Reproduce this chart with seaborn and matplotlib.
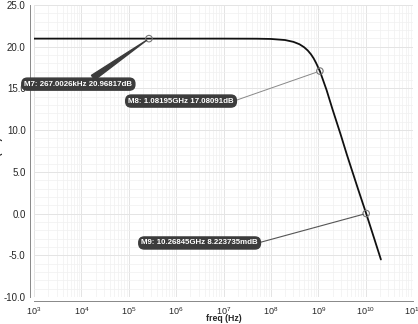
import numpy as np
import pandas as pd
import matplotlib
matplotlib.use("Agg")
import matplotlib.pyplot as plt
import seaborn as sns
from matplotlib.ticker import LogLocator, MultipleLocator, FormatStrFormatter, NullFormatter

# curve
freq = [1e3, 1e4, 1e5, 1e6, 1e7, 5e7, 1e8, 2e8, 3e8, 4e8, 5e8, 6e8, 7e8, 8e8, 9e8,
        1.08195e9, 1.5e9, 2e9, 3e9, 4e9, 5e9, 7e9, 1.026845e10, 1.5e10, 2.1e10]
gain_db = [20.97, 20.97, 20.97, 20.97, 20.97, 20.96, 20.93, 20.80, 20.58, 20.30, 19.95,
           19.55, 19.10, 18.60, 18.05, 17.08, 14.8, 12.5, 9.4, 7.1, 5.4, 2.85, 0.008, -2.9, -5.5]

# markers
marker_names = ["M7", "M8", "M9"]
marker_freq = [267.0026e3, 1.08195e9, 10.26845e9]
marker_db = [20.96817, 17.08091, 0.008223735]
marker_labels = ["M7: 267.0026kHz 20.96817dB",
                 "M8: 1.08195GHz 17.08091dB",
                 "M9: 10.26845GHz 8.223735mdB"]

df = pd.DataFrame({"freq": freq, "gain": gain_db})
mk = pd.DataFrame({"freq": marker_freq, "gain": marker_db, "label": marker_labels})

sns.set_style("white")
plt.rcParams['font.family'] = ['Liberation Sans', 'DejaVu Sans']

fig = plt.figure(figsize=(4.18, 3.24), dpi=100)
ax = fig.add_axes([34 / 418, 27 / 324, 379 / 418, 292 / 324])

sns.lineplot(data=df, x="freq", y="gain", ax=ax, color="#111111", lw=1.3, zorder=3)
sns.scatterplot(data=mk, x="freq", y="gain", ax=ax, s=22, facecolor="none",
                edgecolor="#777777", linewidth=0.8, zorder=4)

ax.set_xscale("log")
ax.set_xlim(1e3, 1e11)
ax.set_ylim(-10, 25)

ax.xaxis.set_major_locator(LogLocator(base=10, numticks=20))
ax.xaxis.set_minor_locator(LogLocator(base=10, subs=np.arange(2, 10), numticks=20))
ax.xaxis.set_minor_formatter(NullFormatter())
ax.yaxis.set_major_locator(MultipleLocator(5))
ax.yaxis.set_minor_locator(MultipleLocator(1))
ax.yaxis.set_major_formatter(FormatStrFormatter("%.1f"))

ax.grid(True, which="major", color="#e4e4e4", lw=0.7)
ax.grid(True, which="minor", color="#f0f0f0", lw=0.5)

ax.tick_params(axis="both", which="major", direction="in", length=3, width=0.6,
               color="#888888")
ax.tick_params(axis="y", which="major", pad=3, labelsize=7)
ax.tick_params(axis="x", which="major", pad=3, labelsize=6.5)
ax.tick_params(axis="both", which="minor", direction="in", length=2, width=0.5,
               color="#888888")
for lab in ax.get_yticklabels():
    lab.set_fontweight("bold")

sns.despine(ax=ax, offset=3)
for s in ["left", "bottom"]:
    ax.spines[s].set_color("#888888")
    ax.spines[s].set_linewidth(0.7)

ax.set_xlabel("freq (Hz)", fontsize=6.3, fontweight="bold", labelpad=-2.5)
ax.set_ylabel("Y (dB)", fontsize=6.5, fontweight="bold")
ax.yaxis.set_label_coords(-0.083, 0.5)

box = dict(boxstyle="round,pad=0.32,rounding_size=0.7", fc="#3c3c3c", ec="#3c3c3c")
text_pos = [(0.117, 0.729), (0.388, 0.671), (0.437, 0.185)]
arrows = [dict(arrowstyle="wedge,tail_width=0.7", fc="#3c3c3c", ec="#3c3c3c",
               relpos=(0.55, 0.5), shrinkA=0, shrinkB=2),
          dict(arrowstyle="-", color="#888888", lw=0.7, relpos=(1, 0.5),
               shrinkA=0, shrinkB=2),
          dict(arrowstyle="-", color="#555555", lw=0.8, relpos=(1, 0.5),
               shrinkA=0, shrinkB=2)]
for i, row in mk.iterrows():
    ax.annotate(row["label"], xy=(row["freq"], row["gain"]), xycoords="data",
                xytext=text_pos[i], textcoords="axes fraction",
                ha="center", va="center", fontsize=5.7, fontweight="bold",
                color="white", bbox=box, arrowprops=arrows[i], zorder=5)

fig.savefig("out.png", dpi=100)
